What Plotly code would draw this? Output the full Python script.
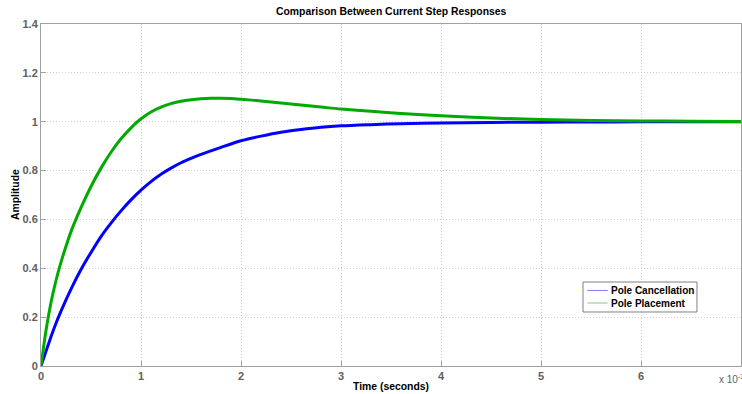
import plotly.graph_objects as go

# Time in ms (axis shows x 10^-3 s)
t_cancel = [0, 0.05, 0.1, 0.15, 0.2, 0.3, 0.4, 0.5, 0.6, 0.7, 0.8, 0.9, 1.0, 1.1, 1.2, 1.3,
            1.4, 1.5, 1.6, 1.8, 2.0, 2.2, 2.4, 2.6, 2.8, 3.0, 3.3, 3.6, 4.0, 4.5, 5.0, 5.5,
            6.0, 6.5, 7.0]
amp_cancel = [0, 0.06, 0.12, 0.175, 0.225, 0.315, 0.395, 0.465, 0.53, 0.585, 0.635, 0.68,
              0.72, 0.755, 0.785, 0.81, 0.832, 0.85, 0.866, 0.895, 0.922, 0.941, 0.957,
              0.968, 0.977, 0.983, 0.988, 0.992, 0.995, 0.997, 0.998, 0.999, 0.9995, 1.0, 1.0]

t_place = [0, 0.025, 0.05, 0.1, 0.15, 0.2, 0.25, 0.3, 0.4, 0.5, 0.6, 0.7, 0.8, 0.9, 1.0,
           1.1, 1.2, 1.3, 1.4, 1.5, 1.6, 1.7, 1.8, 1.9, 2.0, 2.2, 2.4, 2.6, 2.8, 3.0, 3.3,
           3.6, 4.0, 4.5, 5.0, 5.5, 6.0, 6.5, 7.0]
amp_place = [0, 0.075, 0.145, 0.26, 0.35, 0.425, 0.49, 0.55, 0.648, 0.735, 0.81, 0.875,
             0.93, 0.975, 1.012, 1.04, 1.06, 1.074, 1.084, 1.09, 1.094, 1.096, 1.096, 1.095,
             1.092, 1.085, 1.077, 1.068, 1.06, 1.052, 1.043, 1.034, 1.024, 1.015, 1.009,
             1.005, 1.003, 1.002, 1.001]

series_names = ["Pole Cancellation", "Pole Placement"]

x_ticks = [0, 1, 2, 3, 4, 5, 6, 7]
y_ticks = [0, 0.2, 0.4, 0.6, 0.8, 1.0, 1.2, 1.4]
y_tick_text = ["0", "0.2", "0.4", "0.6", "0.8", "1", "1.2", "1.4"]

BLUE = "#0000ff"
GREEN = "#00aa00"
LEG_BLUE = "#7f7fff"
LEG_GREEN = "#7fcc7f"
FONT = "Liberation Sans, Arial, sans-serif"

fig = go.Figure()
fig.add_trace(go.Scatter(x=t_cancel, y=amp_cancel, mode="lines", name=series_names[0],
                         line=dict(color=BLUE, width=3, shape="spline", smoothing=0.8),
                         showlegend=False))
fig.add_trace(go.Scatter(x=t_place, y=amp_place, mode="lines", name=series_names[1],
                         line=dict(color=GREEN, width=3, shape="spline", smoothing=0.8),
                         showlegend=False))

axis_common = dict(
    showline=True, linecolor="#a0a0a0", linewidth=1, mirror=True,
    ticks="inside", ticklen=5, tickcolor="#a0a0a0",
    showgrid=True, gridcolor="#cfcfcf", griddash="1px,2px", gridwidth=1,
    zeroline=False,
    tickfont=dict(family=FONT, size=11, color="#606060", weight="bold"),
)

# manual legend (box, thin sample lines, bold labels) in paper coordinates
lx0, lx1, ly0, ly1 = 0.7743, 0.9371, 0.1579, 0.2456
line_x0, line_x1, text_x = 0.7805, 0.8095, 0.8115
row_y = [0.2208, 0.1842]
leg_colors = [LEG_BLUE, LEG_GREEN]

shapes = [dict(type="rect", xref="paper", yref="paper", x0=lx0, x1=lx1, y0=ly0, y1=ly1,
               line=dict(color="#808080", width=1), fillcolor="white", layer="above")]
annotations = []
for name, col, yy in zip(series_names, leg_colors, row_y):
    shapes.append(dict(type="line", xref="paper", yref="paper", x0=line_x0, x1=line_x1,
                       y0=yy, y1=yy, line=dict(color=col, width=1), layer="above"))
    annotations.append(dict(text="<b>%s</b>" % name, xref="paper", yref="paper", x=text_x, y=yy,
                            xanchor="left", yanchor="middle", showarrow=False,
                            font=dict(family=FONT, size=10, color="black")))

annotations += [
    dict(text="<b>Comparison Between Current Step Responses</b>", xref="paper", yref="paper",
         x=0.5, y=1, yanchor="bottom", yshift=5, showarrow=False,
         font=dict(family=FONT, size=10.4, color="black")),
    dict(text="<b>Time (seconds)</b>", xref="paper", yref="paper", x=0.5, y=0,
         yanchor="middle", yshift=-20, showarrow=False,
         font=dict(family=FONT, size=10.4, color="black")),
    dict(text="<b>Amplitude</b>", xref="paper", yref="paper", x=0, y=0.5,
         xanchor="center", xshift=-26, textangle=-90, showarrow=False,
         font=dict(family=FONT, size=10.4, color="black")),
    dict(text="x 10<sup>-3</sup>", xref="paper", yref="paper", x=1, y=0,
         xanchor="left", yanchor="middle", xshift=-24, yshift=-13, showarrow=False,
         font=dict(family=FONT, size=10, color="#606060")),
]

fig.update_layout(
    width=742, height=394,
    margin=dict(l=41, r=1, t=24, b=28),
    paper_bgcolor="white", plot_bgcolor="white",
    font=dict(family=FONT),
    showlegend=False,
    xaxis=dict(range=[0, 7], tickvals=x_ticks, **axis_common),
    yaxis=dict(range=[0, 1.4], tickvals=y_ticks, ticktext=y_tick_text, **axis_common),
    shapes=shapes,
    annotations=annotations,
)

# remove the default page margin so the figure fills the window exactly
fig.write_html("out.html", config={"displayModeBar": False},
               post_script="document.body.style.margin='0';document.body.style.overflow='hidden';")
